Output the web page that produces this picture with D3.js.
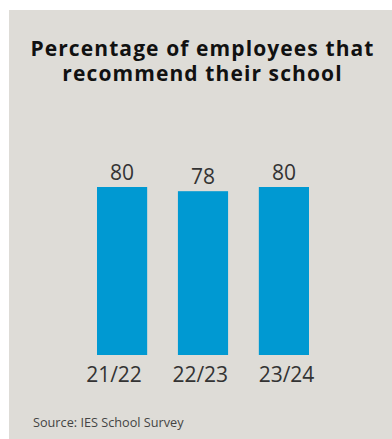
<!DOCTYPE html>
<html>
<head>
<meta charset="utf-8">
<script src="https://cdn.jsdelivr.net/npm/d3@7"></script>
<style>
  html, body { margin: 0; padding: 0; background: #ffffff; }
  svg { display: block; }
</style>
</head>
<body>
<svg id="chart" width="392" height="439"></svg>
<script>
// Employee recommendation survey, by school year
const years = ["21/22", "22/23", "23/24"];
const percentages = [80, 78, 80];
const titleLines = ["Percentage of employees that", "recommend their school"];
const sourceNote = "Source: IES School Survey";

const W = 392, H = 439;
const svg = d3.select("#chart");

// Panel background
svg.append("rect")
  .attr("x", 9).attr("y", 10)
  .attr("width", W - 9).attr("height", H - 10)
  .attr("fill", "#dedcd7");

// Title, one text element per line
svg.append("g")
  .selectAll("text")
  .data(titleLines)
  .join("text")
  .attr("x", 202.5)
  .attr("y", (d, i) => 56 + i * 25)
  .attr("text-anchor", "middle")
  .attr("font-family", "'Open Sans', sans-serif")
  .attr("font-weight", 700)
  .attr("font-size", 21)
  .attr("letter-spacing", 1.1)
  .attr("fill", "#111")
  .text(d => d);

// Scales
const baseY = 355;
const y = d3.scaleLinear().domain([0, 80]).range([baseY, 187]);
const x = d3.scaleBand().domain(years).range([97, 309]).paddingInner(0.38).paddingOuter(0);
const xLabel = d3.scalePoint().domain(years).range([113.5, 286]);

// Bars
svg.append("g")
  .selectAll("rect")
  .data(years)
  .join("rect")
  .attr("x", d => x(d))
  .attr("y", (d, i) => y(percentages[i]))
  .attr("width", x.bandwidth())
  .attr("height", (d, i) => baseY - y(percentages[i]))
  .attr("fill", "#0099d2");

// Value labels
svg.append("g")
  .selectAll("text")
  .data(years)
  .join("text")
  .attr("x", d => x(d) + x.bandwidth() / 2)
  .attr("y", (d, i) => y(percentages[i]) - 7)
  .attr("text-anchor", "middle")
  .attr("font-family", "'Open Sans', sans-serif")
  .attr("font-size", 21)
  .attr("fill", "#333")
  .text((d, i) => percentages[i]);

// Category axis
const axis = svg.append("g")
  .attr("transform", `translate(0,${baseY})`)
  .call(d3.axisBottom(xLabel).tickSize(0).tickPadding(12));
axis.select(".domain").remove();
axis.selectAll("text")
  .attr("font-family", "'Open Sans', sans-serif")
  .attr("font-size", 21)
  .attr("fill", "#333");

// Source note
svg.append("text")
  .attr("x", 33).attr("y", 426.5)
  .attr("font-family", "'Open Sans', sans-serif")
  .attr("font-size", 12.7)
  .attr("fill", "#444")
  .text(sourceNote);
</script>
</body>
</html>
